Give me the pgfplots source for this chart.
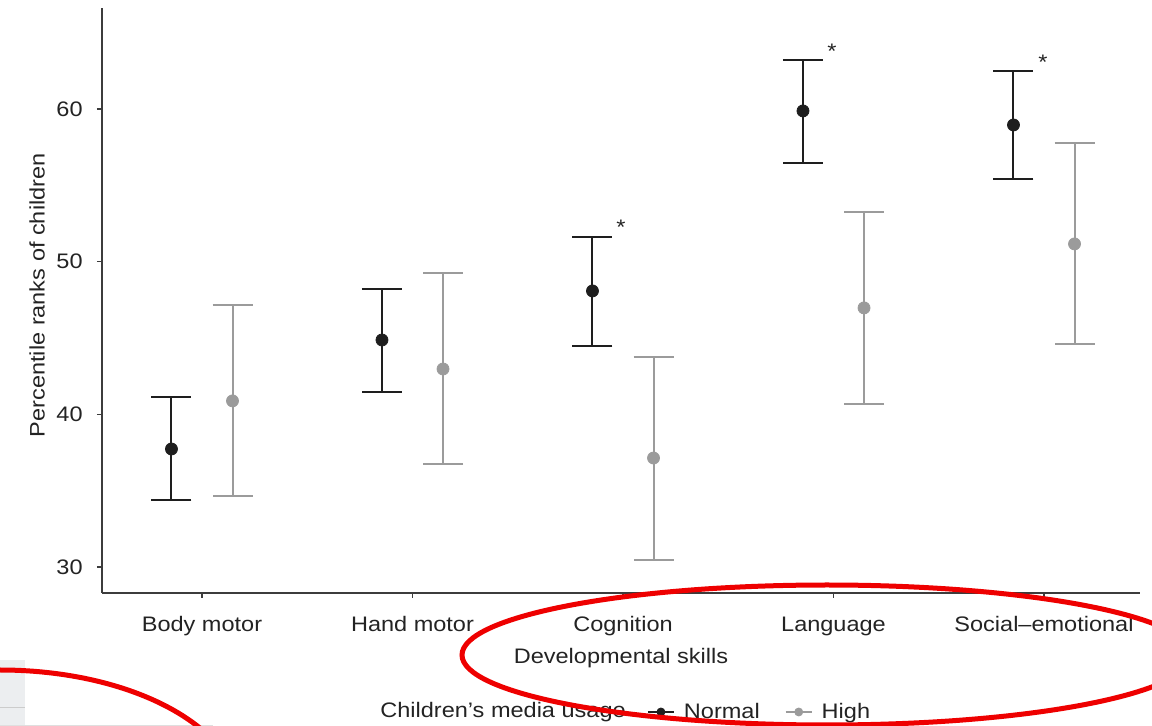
\documentclass[border=0pt]{standalone}
\usepackage{fontspec}
\setmainfont{Liberation Sans}[FakeStretch=1.12]
\usepackage{pgfplots}
\pgfplotsset{compat=1.18}
\usepackage{pgfplotstable}

\definecolor{normalc}{RGB}{30,30,30}
\definecolor{highc}{RGB}{155,155,155}
\definecolor{txt}{RGB}{35,35,35}
\definecolor{tickc}{RGB}{60,60,60}
\definecolor{annot}{RGB}{238,0,0}
\definecolor{boxc}{RGB}{236,238,240}

% percentile ranks: mean, lower and upper ends of the error bar
\pgfplotstableread{
x     y     lo    hi
0.855 37.73 34.40 41.14
1.855 44.87 41.47 48.21
2.855 48.08 44.48 51.62
3.855 59.87 56.46 63.21
4.855 58.95 55.42 62.49
}\normaltab

\pgfplotstableread{
x     y     lo    hi
1.145 40.88 34.66 47.16
2.145 42.97 36.75 49.26
3.145 37.14 30.46 43.76
4.145 46.97 40.68 53.25
5.145 51.16 44.61 57.77
}\hightab

\begin{document}
\begin{tikzpicture}[font=\fontsize{10.5}{12.6}\selectfont]
\useasboundingbox (0,0) rectangle (576pt,-363pt);

\begin{scope}[x=0.5pt,y=-0.5pt]
  \fill[boxc] (0,660) rectangle (25,726);
  \draw[gray!40, line width=0.4pt] (0,707) -- (25,707);
  \draw[gray!25, line width=0.4pt] (0,725) -- (213,725);
\end{scope}

\begin{axis}[
  at={(51pt,-296.5pt)}, anchor=south west,
  scale only axis, width=519pt, height=292.5pt,
  xmin=0.525, xmax=5.456, ymin=28.30, ymax=66.61,
  axis x line*=bottom, axis y line*=left,
  axis line style={-, draw=tickc, line width=0.7pt},
  tick align=outside, major tick length=2.5pt,
  tick style={draw=tickc, line width=0.6pt},
  xtick={1,2,3,4,5},
  xticklabels={Body motor, Hand motor, Cognition, Language, Social--emotional},
  ytick={30,40,50,60},
  /pgf/number format/assume math mode=true,
  tick label style={text=txt},
  x tick label style={anchor=base, inner sep=0pt, yshift=-17pt},
  y tick label style={anchor=east, inner sep=0pt, xshift=-7pt},
  xlabel={Developmental skills},
  ylabel={Percentile ranks of children},
  xlabel style={at={(axis description cs:0.5,0)}, anchor=base, inner sep=0pt, yshift=-35pt, text=txt},
  ylabel style={at={(axis description cs:-0.0626,0.509)}, anchor=center, inner sep=0pt, text=txt},
  clip=false,
  legend style={draw=none, fill=none, inner sep=0pt, outer sep=0pt,
    at={(axis description cs:0.525,-0.2034)}, anchor=west,
    legend columns=-1, nodes={inner sep=0pt, text=txt},
    /tikz/every odd column/.append style={column sep=4.5pt},
    /tikz/every even column/.append style={column sep=12.5pt}},
]
\addplot[only marks, mark=*, mark size=3pt, color=normalc,
  mark options={fill=normalc, draw=normalc},
  legend image code/.code={\draw[normalc, line width=1pt] (0pt,0pt) -- (13pt,0pt);
    \fill[normalc] (6.5pt,0pt) circle (2pt);},
  error bars/.cd, y dir=both, y explicit,
  error bar style={line width=1pt, normalc},
  error mark options={rotate=90, line width=1pt, mark size=10pt, normalc}]
  table[x=x, y=y, y error plus expr=\thisrow{hi}-\thisrow{y},
        y error minus expr=\thisrow{y}-\thisrow{lo}] {\normaltab};
\addlegendentry{Normal}

\addplot[only marks, mark=*, mark size=3pt, color=highc,
  mark options={fill=highc, draw=highc},
  legend image code/.code={\draw[highc, line width=1pt] (0pt,0pt) -- (13pt,0pt);
    \fill[highc] (6.5pt,0pt) circle (2pt);},
  error bars/.cd, y dir=both, y explicit,
  error bar style={line width=1pt, highc},
  error mark options={rotate=90, line width=1pt, mark size=10pt, highc}]
  table[x=x, y=y, y error plus expr=\thisrow{hi}-\thisrow{y},
        y error minus expr=\thisrow{y}-\thisrow{lo}] {\hightab};
\addlegendentry{High}

\node[anchor=base, text=txt] at (axis cs:2.99,51.78) {*};
\node[anchor=base, text=txt] at (axis cs:3.993,63.3) {*};
\node[anchor=base, text=txt] at (axis cs:4.995,62.55) {*};
\node[anchor=base west, inner sep=0pt, text=txt] at (axis description cs:0.2678,-0.212) {Children’s media usage};
\end{axis}

\begin{scope}[x=0.5pt,y=-0.5pt]
  \clip (0,0) rectangle (1152,726);
  \draw[annot, line width=2.5pt] (827,655) ellipse [x radius=365, y radius=70];
  \draw[annot, line width=2.5pt] (0,800) ellipse [x radius=240, y radius=130];
\end{scope}
\end{tikzpicture}
\end{document}
